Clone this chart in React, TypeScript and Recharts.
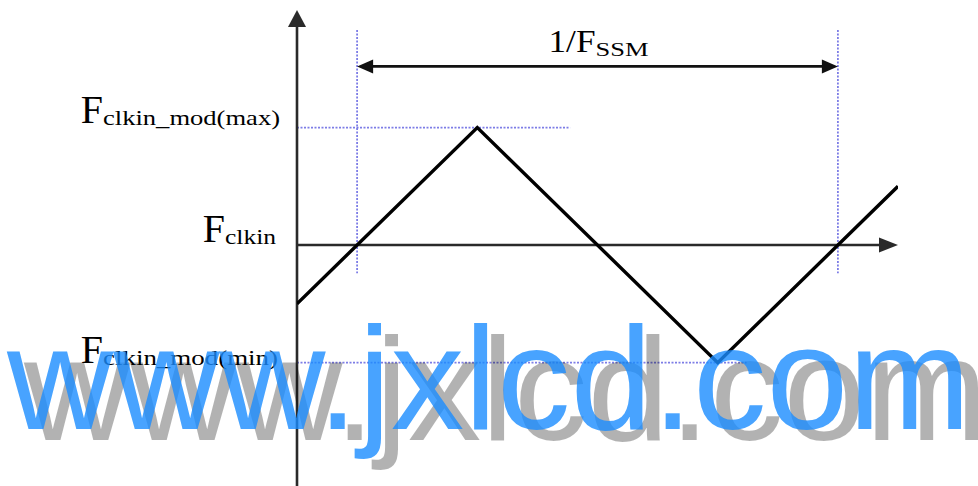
import React from "react";
import { ComposedChart, Line, XAxis, YAxis, ReferenceLine } from "recharts";

// triangle modulation, one period of 1/F_SSM runs from t=0 to t=1
const waveT = [-0.125, 0.25, 0.75, 1.125];
const waveF = [-0.5, 1, -1, 0.5];
const levelValues = [1, 0, -1];
const levelSubs = ["clkin_mod(max)", "clkin", "clkin_mod(min)"];
const periodBounds = [0, 1];
const periodMain = "1/F";
const periodSub = "SSM";
const watermark = "www.jxlcd.com";

const data = waveT.map((t, i) => ({ t, f: waveF[i] }));

const X_DOMAIN: [number, number] = [-0.125, 1.125];
const Y_DOMAIN: [number, number] = [-2.05, 2];
const GUIDE_END = { max: 0.443, min: 0.81 };
const GUIDE_TOP = 1.83;
const GUIDE_BOTTOM = -0.24;
const SPAN_Y = 1.52;

const SERIF = "'Liberation Serif', 'Times New Roman', serif";
const SANS = "'Liberation Sans', Arial, sans-serif";
const GUIDE = "#7d7de6";

// per label: right edge of subscript, subscript width, baseline shift
const levelLayout = [
  { right: 280, subW: 177, dy: -5 },
  { right: 276, subW: 51, dy: -3 },
  { right: 278, subW: 175, dy: 0 },
];

function arrowShape(both: boolean, len: number, half: number, color: string, width: number) {
  return (p: any) => {
    const x1 = +p.x1, y1 = +p.y1, x2 = +p.x2, y2 = +p.y2;
    const d = Math.hypot(x2 - x1, y2 - y1) || 1;
    const ux = (x2 - x1) / d, uy = (y2 - y1) / d;
    const head = (tx: number, ty: number, dx: number, dy: number) => {
      const bx = tx - dx * len, by = ty - dy * len;
      return `${tx},${ty} ${bx - dy * half},${by + dx * half} ${bx + dy * half},${by - dx * half}`;
    };
    const sx = both ? x1 + ux * (len - 2) : x1;
    const sy = both ? y1 + uy * (len - 2) : y1;
    return (
      <g>
        <line x1={sx} y1={sy} x2={x2 - ux * (len - 2)} y2={y2 - uy * (len - 2)} stroke={color} strokeWidth={width} />
        <polygon points={head(x2, y2, ux, uy)} fill={color} />
        {both && <polygon points={head(x1, y1, -ux, -uy)} fill={color} />}
      </g>
    );
  };
}

function spanShape(p: any) {
  const cx = (+p.x1 + +p.x2) / 2;
  const y = +p.y1;
  return (
    <g>
      {arrowShape(true, 16, 7, "#111", 2.6)(p)}
      <text x={cx - 49} y={y - 14} fontFamily={SERIF} fontSize={32} fill="#000" textLength={47} lengthAdjust="spacingAndGlyphs">
        {periodMain}
      </text>
      <text x={cx - 2} y={y - 10} fontFamily={SERIF} fontSize={18} fill="#000" textLength={53} lengthAdjust="spacingAndGlyphs">
        {periodSub}
      </text>
    </g>
  );
}

function LevelTick(props: any) {
  const { y, payload } = props;
  const i = levelValues.indexOf(payload.value);
  if (i < 0) return null;
  const lay = levelLayout[i];
  const subX = lay.right - lay.subW;
  return (
    <g>
      <text x={subX} y={y + lay.dy} textAnchor="end" fontFamily={SERIF} fontSize={40} fill="#000">
        F
      </text>
      <text x={subX} y={y + lay.dy + 2} fontFamily={SERIF} fontSize={21} fill="#000" textLength={lay.subW} lengthAdjust="spacingAndGlyphs">
        {levelSubs[i]}
      </text>
    </g>
  );
}

export default function App() {
  return (
    <div style={{ position: "absolute", left: 0, top: 0, width: 978, height: 486, background: "#fff" }}>
      <ComposedChart width={978} height={486} data={data} margin={{ top: 10, right: 80, bottom: 0, left: 0 }}>
        <XAxis dataKey="t" type="number" domain={X_DOMAIN} allowDataOverflow hide />
        <YAxis
          type="number"
          domain={Y_DOMAIN}
          allowDataOverflow
          width={297}
          ticks={levelValues}
          interval={0}
          axisLine={false}
          tickLine={false}
          tick={<LevelTick />}
        />

        {/* guides */}
        <ReferenceLine
          segment={[{ x: X_DOMAIN[0], y: 1 }, { x: GUIDE_END.max, y: 1 }]}
          stroke={GUIDE}
          strokeWidth={1.8}
          strokeDasharray="2 1.5"
          ifOverflow="visible"
        />
        <ReferenceLine
          segment={[{ x: X_DOMAIN[0], y: -1 }, { x: GUIDE_END.min, y: -1 }]}
          stroke={GUIDE}
          strokeWidth={1.8}
          strokeDasharray="2 1.5"
          ifOverflow="visible"
        />
        {periodBounds.map((t) => (
          <ReferenceLine
            key={t}
            segment={[{ x: t, y: GUIDE_TOP }, { x: t, y: GUIDE_BOTTOM }]}
            stroke={GUIDE}
            strokeWidth={1.8}
            strokeDasharray="2 1.5"
            ifOverflow="visible"
          />
        ))}

        {/* axes */}
        <ReferenceLine
          segment={[{ x: X_DOMAIN[0], y: Y_DOMAIN[0] }, { x: X_DOMAIN[0], y: Y_DOMAIN[1] }]}
          shape={arrowShape(false, 17, 9, "#2a2a2a", 2.6)}
          ifOverflow="visible"
        />
        <ReferenceLine
          segment={[{ x: X_DOMAIN[0], y: 0 }, { x: X_DOMAIN[1], y: 0 }]}
          shape={arrowShape(false, 19, 7.5, "#2a2a2a", 2.6)}
          ifOverflow="visible"
        />
        <ReferenceLine
          segment={[{ x: periodBounds[0], y: SPAN_Y }, { x: periodBounds[1], y: SPAN_Y }]}
          shape={spanShape}
          ifOverflow="visible"
        />

        <Line
          dataKey="f"
          type="linear"
          stroke="#000"
          strokeWidth={3.4}
          dot={false}
          activeDot={false}
          isAnimationActive={false}
        />
      </ComposedChart>

      <svg width={978} height={486} style={{ position: "absolute", left: 0, top: 0, pointerEvents: "none" }}>
        <text x={24} y={440} fontFamily={SANS} fontSize={147} fill="#000" fillOpacity={0.3}>
          {watermark}
        </text>
        <text x={7} y={429} fontFamily={SANS} fontSize={147} fill="#1a8cff" fillOpacity={0.8}>
          {watermark}
        </text>
      </svg>
    </div>
  );
}
